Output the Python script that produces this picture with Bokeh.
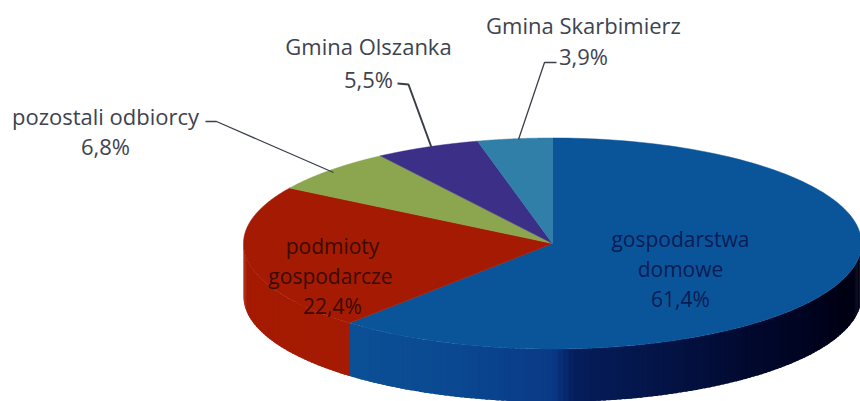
import numpy as np
from bokeh.plotting import figure
from bokeh.embed import file_html
from bokeh.resources import INLINE
from bokeh.core.properties import value

categories = ["gospodarstwa domowe", "podmioty gospodarcze", "pozostali odbiorcy", "Gmina Olszanka", "Gmina Skarbimierz"]
shares = [61.4, 22.4, 6.8, 5.5, 3.9]
top_colors = ["#0a5599", "#a51a02", "#8ba64f", "#3b2f88", "#2f7fa9"]

label_lines = ["Gmina Skarbimierz", "3,9%", "Gmina Olszanka", "5,5%", "pozostali odbiorcy", "6,8%",
               "gospodarstwa", "domowe", "61,4%", "podmioty", "gospodarcze", "22,4%"]
label_x = [583, 583, 368, 368, 105, 105, 680, 680, 680, 332, 330, 332]
label_y = [24, 55, 45, 78, 115, 145, 238, 268, 298, 245, 275, 305]
label_col = ["#3d4350"] * 6 + ["#0a1c55"] * 3 + ["#3a0c02"] * 3
label_size = ["22px"] * 6 + ["21px"] * 6

leaders = [([205, 216, 333], [121, 121, 172]),
           ([397, 408, 431], [83, 84, 147]),
           ([556, 544, 518], [62, 62, 139])]
leader_width = [1.3, 2.0, 1.3]

CX, CY, RX, RY, DEPTH = 552, 243, 309, 105.5, 53
side_stops_t = [90, 110, 140, 176, 180, 200, 221]
side_stops_rgb = [(0, 0, 24), (0, 0, 20), (2, 9, 46), (6, 30, 92), (10, 58, 135), (11, 74, 146), (11, 80, 150)]
red_side_rgb = (165, 26, 2)


def pt(t):
    r = np.radians(t)
    return CX + RX * np.sin(r), CY - RY * np.cos(r)


p = figure(width=860, height=401, x_range=(0, 860), y_range=(401, 0), toolbar_location=None,
           output_backend="svg", min_border=0, background_fill_color="white", border_fill_color="white",
           outline_line_color=None)
p.axis.visible = False
p.grid.visible = False

# side wall
boundary = 360 * shares[0] / 100
for t0 in np.arange(90, 270, 1.0):
    t1 = min(t0 + 1.6, 270)
    tm = t0 + 0.5
    if tm < boundary:
        rgb = [int(np.interp(tm, side_stops_t, [c[i] for c in side_stops_rgb])) for i in range(3)]
    else:
        rgb = list(red_side_rgb)
    col = "#%02x%02x%02x" % tuple(rgb)
    x0, y0 = pt(t0)
    x1, y1 = pt(t1)
    p.patch([x0, x1, x1, x0], [y0, y1, y1 + DEPTH, y0 + DEPTH], fill_color=col, line_color=None)

# top face
start = 0.0
for s, c in zip(shares, top_colors):
    end = start + 360 * s / 100
    ts = np.linspace(start, end, 160)
    xs, ys = pt(ts)
    p.patch([CX, *xs], [CY, *ys], fill_color=c, line_color=c, line_width=0.5)
    start = end

for (lx, ly), w in zip(leaders, leader_width):
    p.line(lx, ly, line_color="#3a3f4a", line_width=w)

for t, x, y, c, fs in zip(label_lines, label_x, label_y, label_col, label_size):
    p.text([x], [y], text=[t], text_align="center", text_baseline="middle", text_color=c,
           text_font=value("Open Sans"), text_font_size=fs)

open("out.html", "w").write(file_html(p, INLINE))
